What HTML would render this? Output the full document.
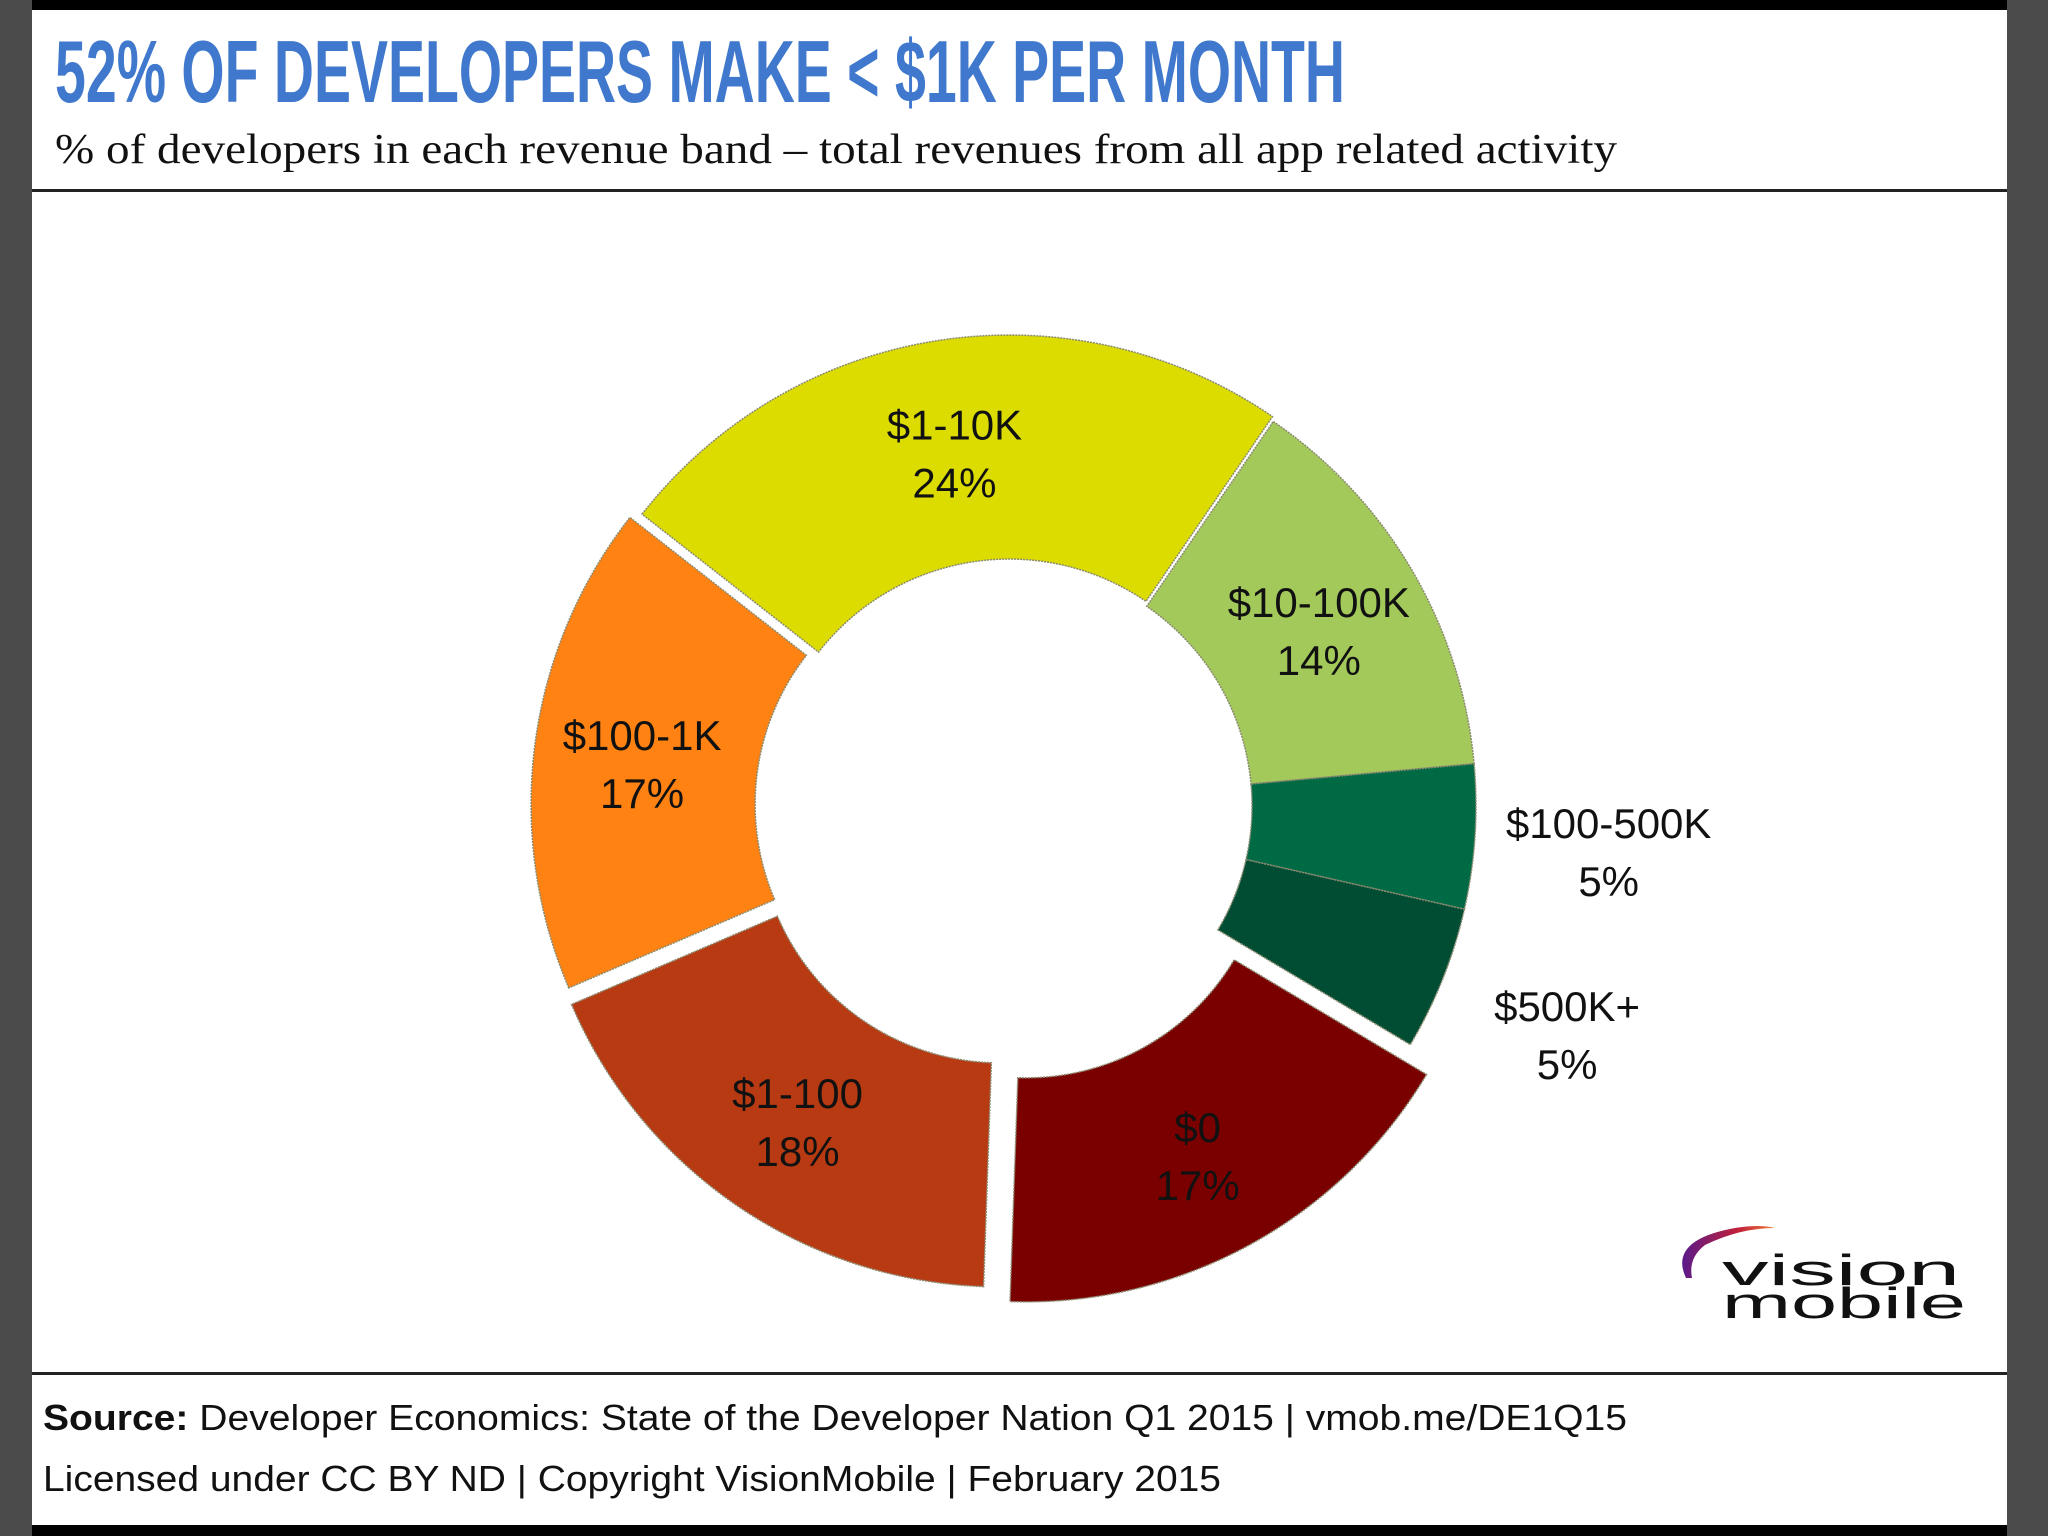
<!DOCTYPE html>
<html><head><meta charset="utf-8"><style>
html,body{margin:0;padding:0;background:#fff;}
svg{display:block;}
</style></head><body>
<svg id="chart" width="2048" height="1536" viewBox="0 0 2048 1536" xmlns="http://www.w3.org/2000/svg">
  <rect x="0" y="0" width="2048" height="1536" fill="#ffffff"/>
  <rect x="0" y="0" width="32" height="1536" fill="#4b4b4b"/>
  <rect x="2007" y="0" width="41" height="1536" fill="#4b4b4b"/>
  <rect x="32" y="0" width="1975" height="10" fill="#000"/>
  <rect x="32" y="1525" width="1975" height="11" fill="#000"/>
  <text x="55" y="102" fill="#3f78cc" font-family="'Liberation Sans Narrow','Liberation Sans',sans-serif" font-weight="bold" font-size="88" textLength="1290" lengthAdjust="spacingAndGlyphs">52% OF DEVELOPERS MAKE &lt; $1K PER MONTH</text>
  <text x="55" y="163" fill="#111" font-family="'Liberation Serif',serif" font-size="42" textLength="1562" lengthAdjust="spacingAndGlyphs">% of developers in each revenue band – total revenues from all app related activity</text>
  <rect x="32" y="189" width="1975" height="3" fill="#222"/>
  <rect x="32" y="1372" width="1975" height="3" fill="#222"/>
  <text x="43" y="1430" fill="#111" font-family="'Liberation Sans Narrow','Liberation Sans',sans-serif" font-size="36" textLength="1584" lengthAdjust="spacingAndGlyphs"><tspan font-weight="bold">Source:</tspan> Developer Economics: State of the Developer Nation Q1 2015 | vmob.me/DE1Q15</text>
  <text x="43" y="1491" fill="#111" font-family="'Liberation Sans Narrow','Liberation Sans',sans-serif" font-size="36" textLength="1178" lengthAdjust="spacingAndGlyphs">Licensed under CC BY ND | Copyright VisionMobile | February 2015</text>
  <g>
    <defs><linearGradient id="sw" x1="0" x2="1" y1="0" y2="0"><stop offset="0" stop-color="#5a1a8a"/><stop offset="0.6" stop-color="#c0203a"/><stop offset="1" stop-color="#f08040"/></linearGradient></defs>
    <path d="M1686 1278 Q1668 1240 1735 1228 Q1760 1224 1775 1228 Q1740 1228 1705 1245 Q1688 1258 1692 1278 Z" fill="url(#sw)"/>
    <text x="1722" y="1285" fill="#111" font-family="'Liberation Sans',sans-serif" font-size="44" textLength="238" lengthAdjust="spacingAndGlyphs">vision</text>
    <text x="1722" y="1318" fill="#111" font-family="'Liberation Sans',sans-serif" font-size="44" textLength="244" lengthAdjust="spacingAndGlyphs">mobile</text>
  </g>
  <g id="slices"></g>
  <g id="labels"></g>
</svg>
<script>
const categories = ["$1-10K", "$10-100K", "$100-500K", "$500K+", "$0", "$1-100", "$100-1K"];
const values = [24, 14, 5, 5, 17, 18, 17];
const valueLabels = ["24%", "14%", "5%", "5%", "17%", "18%", "17%"];
const colors = ["#dcdc00", "#a3c95a", "#006a45", "#004d33", "#7a0000", "#b73a13", "#ff8212"];
const explode = [5, 0, 0, 0, 34, 18, 13];
const outside = [false, false, true, true, false, false, false];

const NS = "http://www.w3.org/2000/svg";
const cx = 1010, cy = 806, Ro = 466, Ri = 242, startDeg = -52;
const total = values.reduce((a, b) => a + b, 0);
function angleOf(v) { return v / total * 360; }
function pt(deg, r, ox, oy) { const a = deg * Math.PI / 180; return [ox + r * Math.sin(a), oy - r * Math.cos(a)]; }
const gS = document.getElementById('slices');
const gL = document.getElementById('labels');
let acc = startDeg;
values.forEach((v, i) => {
  const a0 = acc, a1 = acc + angleOf(v); acc = a1;
  const mid = (a0 + a1) / 2;
  const [ox, oy] = pt(mid, explode[i], cx, cy);
  const p1 = pt(a0, Ro, ox, oy), p2 = pt(a1, Ro, ox, oy), p3 = pt(a1, Ri, ox, oy), p4 = pt(a0, Ri, ox, oy);
  const large = (a1 - a0) > 180 ? 1 : 0;
  const d = `M${p1[0]},${p1[1]} A${Ro},${Ro} 0 ${large} 1 ${p2[0]},${p2[1]} L${p3[0]},${p3[1]} A${Ri},${Ri} 0 ${large} 0 ${p4[0]},${p4[1]} Z`;
  const path = document.createElementNS(NS, 'path');
  path.setAttribute('d', d);
  path.setAttribute('fill', colors[i]);
  path.setAttribute('stroke', '#8a8a70');
  path.setAttribute('stroke-width', '1.5');
  path.setAttribute('stroke-dasharray', '2 1');
  
  
  gS.appendChild(path);
  const lr = outside[i] ? 600 : 358;
  const [lx, ly] = pt(mid, lr, ox, oy);
  const t = document.createElementNS(NS, 'text');
  t.setAttribute('x', lx);
  t.setAttribute('y', ly - 8);
  t.setAttribute('text-anchor', 'middle');
  t.setAttribute('font-family', "'Liberation Sans Narrow','Liberation Sans',sans-serif");
  t.setAttribute('font-size', '42');
  t.setAttribute('fill', '#111');
  
  
  const s1 = document.createElementNS(NS, 'tspan');
  s1.setAttribute('x', lx); s1.textContent = categories[i];
  const s2 = document.createElementNS(NS, 'tspan');
  s2.setAttribute('x', lx); s2.setAttribute('dy', '58'); s2.textContent = valueLabels[i];
  t.appendChild(s1); t.appendChild(s2);
  gL.appendChild(t);
});
</script>
</body></html>
